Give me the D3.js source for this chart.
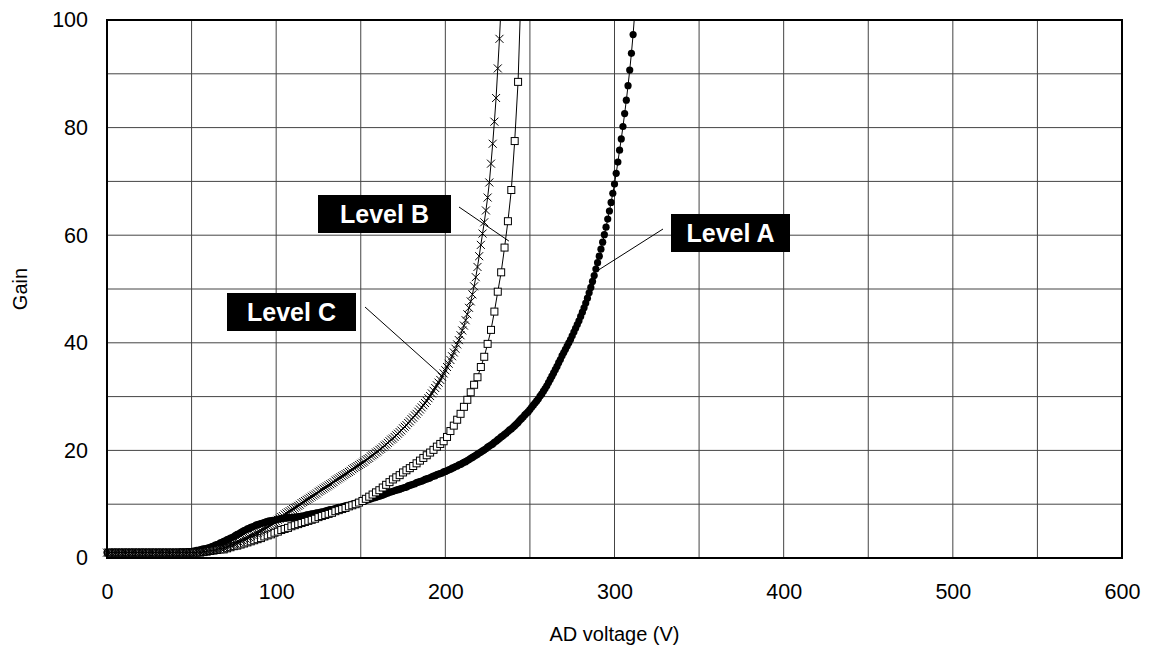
<!DOCTYPE html>
<html>
<head>
<meta charset="utf-8">
<script src="https://cdn.jsdelivr.net/npm/d3@7"></script>
<style>
  body { margin: 0; background: #fff; }
  svg text { font-family: "Liberation Sans", Arial, sans-serif; }
</style>
</head>
<body>
<div id="chart"></div>
<script>
// x ticks (AD voltage, V) and y ticks (gain)
const xTicks = [0, 100, 200, 300, 400, 500, 600];
const yTicks = [0, 20, 40, 60, 80, 100];

// Level A: sampled every 1 V starting at 0 V
const startA = 0, stepA = 1;
const gainA = [
  1.0,1.0,1.0,1.0,1.0,1.0,1.0,1.0,1.0,1.0,
  1.0,1.0,1.0,1.0,1.0,1.0,1.0,1.0,1.0,1.0,
  1.0,1.0,1.0,1.0,1.0,1.0,1.0,1.0,1.0,1.0,
  1.0,1.0,1.0,1.0,1.0,1.0,1.0,1.0,1.0,1.0,
  1.0,1.0,1.0,1.1,1.1,1.1,1.1,1.1,1.2,1.2,
  1.2,1.3,1.3,1.4,1.4,1.5,1.6,1.7,1.7,1.8,
  1.9,2.0,2.1,2.2,2.4,2.5,2.6,2.8,2.9,3.1,
  3.2,3.4,3.5,3.7,3.8,4.0,4.2,4.4,4.5,4.7,
  4.9,5.1,5.2,5.4,5.5,5.7,5.8,5.9,6.1,6.2,
  6.3,6.4,6.5,6.6,6.7,6.8,6.9,6.9,7.0,7.0,
  7.1,7.2,7.3,7.3,7.4,7.4,7.4,7.5,7.5,7.5,
  7.5,7.6,7.6,7.7,7.7,7.8,7.8,7.9,8.0,8.0,
  8.1,8.2,8.2,8.3,8.4,8.4,8.5,8.6,8.6,8.7,
  8.8,8.9,9.0,9.0,9.1,9.2,9.3,9.4,9.4,9.5,
  9.6,9.7,9.8,9.8,9.9,10.0,10.1,10.2,10.2,10.3,
  10.4,10.5,10.6,10.7,10.8,10.9,11.0,11.1,11.2,11.3,
  11.4,11.5,11.6,11.7,11.8,12.0,12.1,12.2,12.3,12.4,
  12.5,12.6,12.7,12.8,12.9,13.0,13.1,13.2,13.4,13.5,
  13.6,13.7,13.8,14.0,14.1,14.2,14.3,14.4,14.6,14.7,
  14.8,14.9,15.1,15.2,15.3,15.5,15.6,15.7,15.8,16.0,
  16.1,16.2,16.4,16.5,16.7,16.8,17.0,17.1,17.3,17.4,
  17.6,17.8,17.9,18.1,18.3,18.5,18.7,18.9,19.1,19.3,
  19.5,19.7,19.9,20.1,20.3,20.6,20.8,21.0,21.2,21.5,
  21.7,22.0,22.2,22.5,22.7,23.0,23.2,23.5,23.8,24.0,
  24.3,24.6,24.9,25.2,25.6,25.9,26.2,26.6,26.9,27.2,
  27.6,28.0,28.4,28.8,29.2,29.6,30.1,30.5,31.0,31.5,
  32.0,32.6,33.2,33.8,34.4,35.0,35.6,36.3,36.9,37.6,
  38.2,38.8,39.4,40.0,40.6,41.3,42.0,42.7,43.4,44.1,
  44.9,45.7,46.5,47.4,48.3,49.3,50.3,51.4,52.5,53.7,
  54.9,56.1,57.4,58.7,60.1,61.5,63.0,64.5,66.1,67.8,
  69.5,71.5,73.6,75.8,77.9,80.2,82.6,85.1,87.8,90.7,
  93.8,97.3,101.5
];

// Level B: sampled every 2 V starting at 1 V
const startB = 1, stepB = 2;
const gainB = [
  1.0,1.0,1.0,1.0,1.0,1.0,1.0,1.0,1.0,1.0,
  1.0,1.0,1.0,1.0,1.0,1.0,1.0,1.0,1.0,1.0,
  1.0,1.0,1.0,1.0,1.0,1.0,1.0,1.0,
  1.1,1.2,1.3,1.4,1.5,1.6,1.6,1.8,2.0,2.2,
  2.3,2.5,2.7,2.9,3.1,3.3,3.5,3.7,4.0,4.2,
  4.4,4.7,4.9,5.2,5.4,5.6,5.9,6.1,6.3,6.5,
  6.7,6.9,7.1,7.3,7.6,7.8,8.0,8.2,8.4,8.7,
  8.9,9.1,9.3,9.6,9.8,10.0,10.3,10.6,11.0,11.4,
  11.8,12.2,12.6,13.1,13.6,14.1,14.6,15.0,15.4,15.9,
  16.3,16.7,17.1,17.6,18.1,18.6,19.1,19.6,20.1,20.7,
  21.2,21.7,22.5,23.6,24.6,25.7,26.8,28.1,29.4,30.8,
  32.2,33.6,35.5,37.4,39.8,42.4,45.8,49.5,53.1,57.7,
  62.6,68.4,77.5,88.5,108.0
];

// Level C: sampled every 1 V starting at 0 V
const startC = 0, stepC = 1;
const gainC = [
  1.0,1.0,1.0,1.0,1.0,1.0,1.0,1.0,1.0,1.0,
  1.0,1.0,1.0,1.0,1.0,1.0,1.0,1.0,1.0,1.0,
  1.0,1.0,1.0,1.0,1.0,1.0,1.0,1.0,1.0,1.0,
  1.0,1.0,1.0,1.0,1.0,1.0,1.0,1.0,1.0,1.0,
  1.0,1.0,1.0,1.0,1.0,1.0,1.0,1.0,1.0,1.0,
  1.0,1.0,1.0,1.1,1.1,1.1,1.1,1.2,1.2,1.3,
  1.3,1.4,1.4,1.5,1.5,1.6,1.7,1.8,1.8,1.9,
  2.0,2.1,2.2,2.4,2.5,2.6,2.7,2.9,3.0,3.2,
  3.3,3.5,3.6,3.8,3.9,4.1,4.3,4.4,4.6,4.7,
  4.9,5.1,5.3,5.4,5.6,5.8,6.0,6.2,6.4,6.6,
  6.8,7.1,7.3,7.6,7.8,8.1,8.3,8.5,8.7,8.9,
  9.1,9.3,9.5,9.7,9.9,10.2,10.4,10.6,10.8,11.0,
  11.2,11.4,11.6,11.8,12.0,12.3,12.5,12.7,12.9,13.1,
  13.3,13.5,13.7,13.9,14.1,14.4,14.6,14.8,15.0,15.2,
  15.4,15.6,15.8,16.0,16.2,16.5,16.7,16.9,17.1,17.3,
  17.5,17.7,17.9,18.2,18.4,18.6,18.9,19.1,19.3,19.6,
  19.8,20.1,20.3,20.6,20.9,21.1,21.4,21.7,22.0,22.2,
  22.5,22.8,23.1,23.4,23.7,24.1,24.4,24.7,25.1,25.4,
  25.8,26.1,26.5,26.8,27.2,27.6,28.0,28.4,28.8,29.2,
  29.7,30.1,30.6,31.1,31.6,32.1,32.6,33.1,33.7,34.3,
  34.9,35.5,36.1,36.8,37.5,38.2,38.9,39.7,40.5,41.4,
  42.3,43.2,44.2,45.3,46.5,47.7,49.0,50.5,52.2,54.1,
  56.1,58.2,60.3,62.4,64.6,67.0,69.8,73.3,77.0,81.1,
  85.5,91.0,96.5,103.0
];

const seriesNames = ["Level A", "Level B", "Level C"];

// page layout
const W = 1152, H = 648;
const plot = {left: 107, right: 1122, top: 20, bottom: 558};

const svg = d3.select("#chart")
  .append("svg")
  .attr("width", W)
  .attr("height", H);

const x = d3.scaleLinear().domain([0, 600]).range([plot.left, plot.right]);
const y = d3.scaleLinear().domain([0, 100]).range([plot.bottom, plot.top]);

// grid: every 50 V and every 10 gain
svg.append("g")
  .selectAll("line")
  .data(d3.range(50, 600, 50))
  .join("line")
  .attr("x1", d => x(d)).attr("x2", d => x(d))
  .attr("y1", plot.top).attr("y2", plot.bottom)
  .attr("stroke", "#444").attr("stroke-width", 1);

svg.append("g")
  .selectAll("line")
  .data(d3.range(10, 100, 10))
  .join("line")
  .attr("x1", plot.left).attr("x2", plot.right)
  .attr("y1", d => y(d)).attr("y2", d => y(d))
  .attr("stroke", "#444").attr("stroke-width", 1);

// axes (labels only, the frame is drawn below)
const xAxis = svg.append("g")
  .attr("transform", `translate(0, ${plot.bottom})`)
  .call(d3.axisBottom(x).tickValues(xTicks).tickSize(0).tickPadding(26));
const yAxis = svg.append("g")
  .attr("transform", `translate(${plot.left}, 0)`)
  .call(d3.axisLeft(y).tickValues(yTicks).tickSize(0).tickPadding(19));
[xAxis, yAxis].forEach(a => {
  a.select(".domain").remove();
  a.selectAll("text").attr("font-size", 21.5).attr("fill", "#000")
    .attr("font-family", "Liberation Sans, Arial, sans-serif");
});

svg.append("text")
  .attr("x", x(300)).attr("y", 641)
  .attr("text-anchor", "middle")
  .attr("font-size", 20)
  .text("AD voltage (V)");

svg.append("text")
  .attr("transform", `translate(27, ${y(50)}) rotate(-90)`)
  .attr("text-anchor", "middle")
  .attr("font-size", 20)
  .text("Gain");

// clip the curves at the top of the plot
svg.append("defs").append("clipPath").attr("id", "clip")
  .append("rect").attr("x", 0).attr("y", plot.top).attr("width", W).attr("height", H - plot.top);

function toPoints(start, step, gains) {
  return gains.map((g, i) => ({v: start + i * step, g: g}));
}
const dataA = toPoints(startA, stepA, gainA);
const dataB = toPoints(startB, stepB, gainB);
const dataC = toPoints(startC, stepC, gainC);

const line = d3.line().x(d => x(d.v)).y(d => y(d.g));
const curves = svg.append("g").attr("clip-path", "url(#clip)");

// Level A : filled circles
curves.append("path").datum(dataA).attr("d", line)
  .attr("fill", "none").attr("stroke", "#000").attr("stroke-width", 1);
curves.append("g").selectAll("circle").data(dataA).join("circle")
  .attr("cx", d => x(d.v)).attr("cy", d => y(d.g)).attr("r", 3.6)
  .attr("fill", "#000");

// Level B : open squares
curves.append("path").datum(dataB).attr("d", line)
  .attr("fill", "none").attr("stroke", "#000").attr("stroke-width", 1);
curves.append("g").selectAll("rect").data(dataB).join("rect")
  .attr("x", d => x(d.v) - 3.5).attr("y", d => y(d.g) - 3.5)
  .attr("width", 7).attr("height", 7)
  .attr("fill", "#fff").attr("stroke", "#000").attr("stroke-width", 1);

// Level C : crosses
curves.append("path").datum(dataC).attr("d", line)
  .attr("fill", "none").attr("stroke", "#000").attr("stroke-width", 1);
curves.append("g").selectAll("path.cross").data(dataC).join("path")
  .attr("class", "cross")
  .attr("d", "M-4,-4L4,4M-4,4L4,-4")
  .attr("transform", d => `translate(${x(d.v)}, ${y(d.g)})`)
  .attr("fill", "none").attr("stroke", "#000").attr("stroke-width", 1);

// frame
svg.append("rect")
  .attr("x", plot.left).attr("y", plot.top)
  .attr("width", plot.right - plot.left).attr("height", plot.bottom - plot.top)
  .attr("fill", "none").attr("stroke", "#000").attr("stroke-width", 2);

// callouts: box in pixels, leader from box edge to a point on the curve
const callouts = [
  {name: seriesNames[0], box: [671, 214, 119, 38], from: [663, 229], to: [290.4, 53.5]},
  {name: seriesNames[1], box: [318, 195, 133, 38], from: [459, 207], to: [237.6, 58.9]},
  {name: seriesNames[2], box: [227, 293, 129, 38], from: [365, 307], to: [198.6, 33.7]}
];
const co = svg.append("g");
callouts.forEach(c => {
  co.append("line")
    .attr("x1", c.from[0]).attr("y1", c.from[1])
    .attr("x2", x(c.to[0])).attr("y2", y(c.to[1]))
    .attr("stroke", "#000").attr("stroke-width", 1);
  co.append("rect")
    .attr("x", c.box[0]).attr("y", c.box[1])
    .attr("width", c.box[2]).attr("height", c.box[3])
    .attr("fill", "#000");
  co.append("text")
    .attr("x", c.box[0] + c.box[2] / 2).attr("y", c.box[1] + c.box[3] / 2 + 9)
    .attr("text-anchor", "middle")
    .attr("font-size", 25).attr("font-weight", "bold")
    .attr("fill", "#fff")
    .text(c.name);
});
</script>
</body>
</html>
